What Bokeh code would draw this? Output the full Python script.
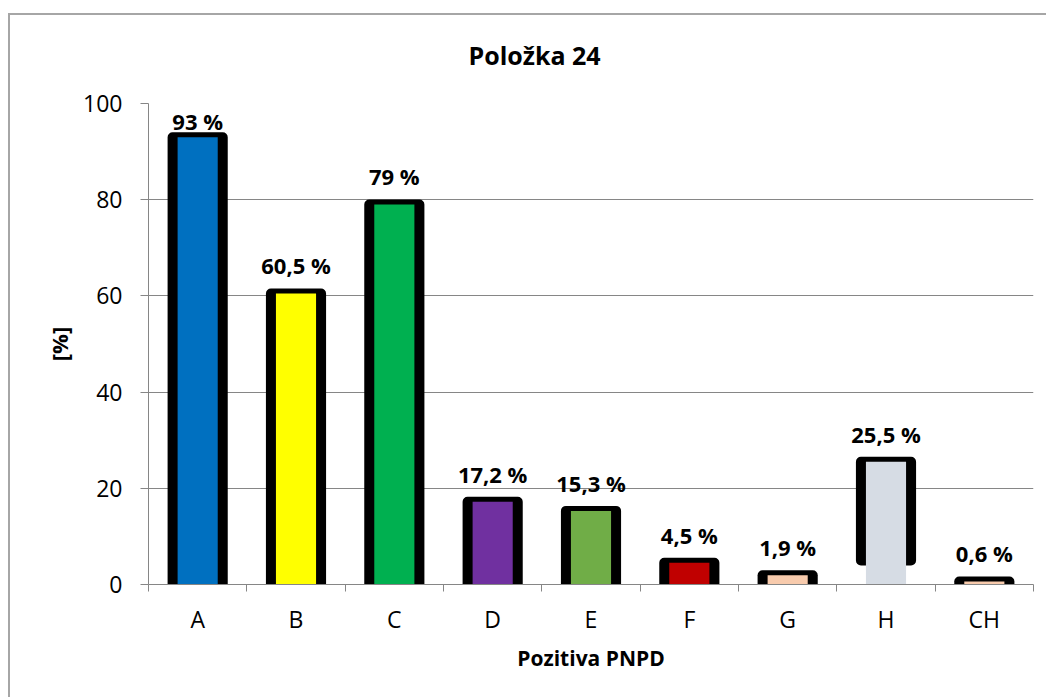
from bokeh.plotting import figure
from bokeh.models import Range1d, FixedTicker, ColumnDataSource, LabelSet, Title
from bokeh.core.properties import value
from bokeh.embed import file_html
from bokeh.resources import INLINE

categories = ["A", "B", "C", "D", "E", "F", "G", "H", "CH"]
values = [93, 60.5, 79, 17.2, 15.3, 4.5, 1.9, 25.5, 0.6]
value_labels = ["93 %", "60,5 %", "79 %", "17,2 %", "15,3 %", "4,5 %", "1,9 %", "25,5 %", "0,6 %"]
colors = ["#0070C0", "#FFFF00", "#00B050", "#7030A0", "#70AD47",
          "#C00000", "#F8CBAD", "#D6DCE4", "#F8CBAD"]
y_ticks = [0, 20, 40, 60, 80, 100]
title_text = "Položka 24"

FONT = "Open Sans"
GRAY = "#868686"

xs = list(range(len(categories)))
# outline of bar H stops above the axis in the original
outline_bottom = [5.0 if c == "H" else -4.0 for c in categories]
label_y = [min(v + 4.0, 94.4) for v in values]

src = ColumnDataSource(dict(x=xs, top=values, color=colors, ob=outline_bottom,
                            ly=label_y, text=value_labels))

p = figure(width=1038, height=684, output_backend="svg", toolbar_location=None,
           title=None,
           x_range=Range1d(-0.5, len(categories) - 0.5), y_range=Range1d(0, 100),
           min_border_left=138, min_border_right=15, min_border_top=88,
           min_border_bottom=115)
p.margin = (13, 0, 0, 8)
p.styles = {"border-top": "2px solid #a6a6a6", "border-left": "2px solid #a6a6a6"}
p.outline_line_color = None
p.background_fill_color = "white"
p.border_fill_color = "white"

# spacer between plot frame and title, then the title itself
p.add_layout(Title(text=" ", text_font_size="10px", standoff=19), "above")
p.add_layout(Title(text=title_text, align="left", offset=320, standoff=0,
                   text_font=FONT, text_font_size="25px", text_font_style="bold",
                   text_color="black"), "above")

# black outlines (rounded corners via round joins)
p.vbar(x="x", width=0.51, bottom="ob", top="top", source=src,
       fill_color="black", line_color="black", line_width=10, line_join="round")
# coloured fills
p.vbar(x="x", width=0.408, bottom=0, top="top", source=src,
       fill_color="color", line_color=None)

labels = LabelSet(x="x", y="ly", text="text", source=src, text_align="center",
                  text_baseline="alphabetic", text_font=value(FONT),
                  text_font_size=value("22px"), text_font_style=value("bold"),
                  text_color=value("black"))
p.add_layout(labels)

# y axis
p.yaxis.ticker = FixedTicker(ticks=y_ticks)
p.yaxis.axis_line_color = GRAY
p.yaxis.major_tick_line_color = GRAY
p.yaxis.major_tick_out = 8
p.yaxis.major_tick_in = 0
p.yaxis.minor_tick_line_color = None
p.yaxis.major_label_text_font = FONT
p.yaxis.major_label_text_font_size = "23px"
p.yaxis.major_label_text_color = "black"
p.yaxis.major_label_standoff = 18
p.yaxis.axis_label = "[%]"
p.yaxis.axis_label_text_font = FONT
p.yaxis.axis_label_text_font_size = "22px"
p.yaxis.axis_label_text_font_style = "bold"
p.yaxis.axis_label_text_color = "black"
p.yaxis.axis_label_standoff = 6

p.ygrid.ticker = FixedTicker(ticks=y_ticks)
p.ygrid.grid_line_color = GRAY
p.xgrid.visible = False

# x axis
p.xaxis.ticker = FixedTicker(ticks=xs, minor_ticks=[i - 0.5 for i in range(len(categories) + 1)])
p.xaxis.major_label_overrides = {i: c for i, c in zip(xs, categories)}
p.xaxis.axis_line_color = GRAY
p.xaxis.major_tick_line_color = None
p.xaxis.major_tick_out = 0
p.xaxis.major_tick_in = 0
p.xaxis.minor_tick_line_color = GRAY
p.xaxis.minor_tick_out = 7
p.xaxis.minor_tick_in = 0
p.xaxis.major_label_text_font = FONT
p.xaxis.major_label_text_font_size = "23px"
p.xaxis.major_label_text_color = "black"
p.xaxis.major_label_standoff = 11
p.xaxis.axis_label = "Pozitiva PNPD"
p.xaxis.axis_label_text_font = FONT
p.xaxis.axis_label_text_font_size = "21px"
p.xaxis.axis_label_text_font_style = "bold"
p.xaxis.axis_label_text_color = "black"
p.xaxis.axis_label_standoff = 6

open("out.html", "w").write(file_html(p, INLINE))
